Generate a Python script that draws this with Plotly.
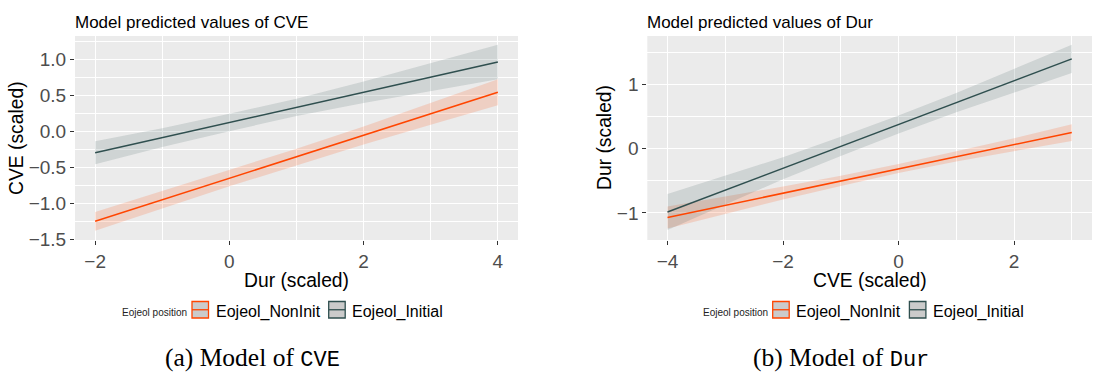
import plotly.graph_objects as go

W, H = 1099, 376

# ---- Model of CVE: predictions over Dur (scaled)
cve_x = [-2, -1, 0, 1, 2, 3, 4]
cve_noninit_fit = [-1.25, -0.95, -0.65, -0.36, -0.06, 0.24, 0.54]
cve_noninit_lo = [-1.38, -1.07, -0.765, -0.475, -0.185, 0.09, 0.36]
cve_noninit_hi = [-1.12, -0.83, -0.535, -0.245, 0.065, 0.39, 0.72]
cve_initial_fit = [-0.30, -0.09, 0.12, 0.33, 0.54, 0.75, 0.96]
cve_initial_lo = [-0.46, -0.22, 0.00, 0.21, 0.39, 0.56, 0.72]
cve_initial_hi = [-0.14, 0.04, 0.24, 0.45, 0.69, 0.94, 1.20]

# ---- Model of Dur: predictions over CVE (scaled)
dur_x = [-4, -3, -2, -1, 0, 1, 2, 3]
dur_noninit_fit = [-1.07, -0.88, -0.69, -0.50, -0.31, -0.12, 0.06, 0.25]
dur_noninit_lo = [-1.24, -1.01, -0.79, -0.58, -0.38, -0.20, -0.04, 0.12]
dur_noninit_hi = [-0.90, -0.75, -0.59, -0.42, -0.24, -0.04, 0.16, 0.38]
dur_initial_fit = [-0.985, -0.645, -0.305, 0.035, 0.375, 0.715, 1.055, 1.395]
dur_initial_lo = [-1.265, -0.865, -0.475, -0.115, 0.235, 0.565, 0.875, 1.175]
dur_initial_hi = [-0.705, -0.425, -0.135, 0.185, 0.515, 0.865, 1.235, 1.615]

groups = ["Eojeol_NonInit", "Eojeol_Initial"]
line_colors = {"Eojeol_NonInit": "#FF4500", "Eojeol_Initial": "#2F4F4F"}
band_colors = {"Eojeol_NonInit": "rgba(255,69,0,0.17)", "Eojeol_Initial": "rgba(47,79,79,0.15)"}


def px_x(p):
    return p / W


def px_y(p):
    return 1 - p / H


fig = go.Figure()


def add_model(x, series, xa, ya):
    # confidence bands first, fitted lines on top
    for name, fit, lo, hi in series:
        fig.add_trace(go.Scatter(x=x, y=lo, mode="lines", line=dict(width=0),
                                 xaxis=xa, yaxis=ya, showlegend=False, hoverinfo="skip"))
        fig.add_trace(go.Scatter(x=x, y=hi, mode="lines", line=dict(width=0), fill="tonexty",
                                 fillcolor=band_colors[name], xaxis=xa, yaxis=ya,
                                 showlegend=False, hoverinfo="skip"))
    for name, fit, lo, hi in series:
        fig.add_trace(go.Scatter(x=x, y=fit, mode="lines", name=name,
                                 line=dict(color=line_colors[name], width=1.5),
                                 xaxis=xa, yaxis=ya, showlegend=False))


add_model(cve_x, [("Eojeol_NonInit", cve_noninit_fit, cve_noninit_lo, cve_noninit_hi),
                  ("Eojeol_Initial", cve_initial_fit, cve_initial_lo, cve_initial_hi)], "x", "y")
add_model(dur_x, [("Eojeol_NonInit", dur_noninit_fit, dur_noninit_lo, dur_noninit_hi),
                  ("Eojeol_Initial", dur_initial_fit, dur_initial_lo, dur_initial_hi)], "x2", "y2")

tickfont = dict(family="Liberation Sans, Arial, sans-serif", size=19, color="#4D4D4D")
axis_common = dict(showline=False, zeroline=False, showgrid=True, gridcolor="white",
                   gridwidth=1.1, ticks="outside", ticklen=4, tickcolor="#333333",
                   tickwidth=1, tickfont=tickfont, fixedrange=True, automargin=False)
minor_grid = dict(showgrid=True, gridcolor="white", gridwidth=0.5, ticks="")

fig.update_layout(
    width=W, height=H,
    margin=dict(l=0, r=0, t=0, b=0),
    paper_bgcolor="white",
    plot_bgcolor="#EBEBEB",
    showlegend=False,
    xaxis=dict(domain=[px_x(75), px_x(518)], range=[-2.3, 4.3], anchor="y",
               tickmode="array", tickvals=[-2, 0, 2, 4], ticktext=["\u22122", "0", "2", "4"],
               minor=dict(tickvals=[-1, 1, 3], **minor_grid), **axis_common),
    yaxis=dict(domain=[px_y(240), px_y(36)], range=[-1.51, 1.32], anchor="x",
               tickmode="array", tickvals=[-1.5, -1.0, -0.5, 0.0, 0.5, 1.0],
               ticktext=["\u22121.5", "\u22121.0", "\u22120.5", "0.0", "0.5", "1.0"],
               minor=dict(tickvals=[-1.25, -0.75, -0.25, 0.25, 0.75, 1.25], **minor_grid),
               **axis_common),
    xaxis2=dict(domain=[px_x(647.3), px_x(1092)], range=[-4.35, 3.35], anchor="y2",
                tickmode="array", tickvals=[-4, -2, 0, 2], ticktext=["\u22124", "\u22122", "0", "2"],
                minor=dict(tickvals=[-3, -1, 1, 3], **minor_grid), **axis_common),
    yaxis2=dict(domain=[px_y(240), px_y(36)], range=[-1.42, 1.75], anchor="x2",
                tickmode="array", tickvals=[-1, 0, 1], ticktext=["\u22121", "0", "1"],
                minor=dict(tickvals=[-0.5, 0.5, 1.5], **minor_grid), **axis_common),
)

sans = "Liberation Sans, Arial, sans-serif"
ann = []


def text(x, y, s, size, color="black", xanchor="left", yanchor="middle", angle=0, family=sans):
    ann.append(dict(x=px_x(x), y=px_y(y), xref="paper", yref="paper", text=s, showarrow=False,
                    xanchor=xanchor, yanchor=yanchor, textangle=angle,
                    font=dict(family=family, size=size, color=color)))


# panel titles
text(73, 22, "Model predicted values of CVE", 17)
text(645, 22, "Model predicted values of Dur", 17)
# axis titles
text(296.5, 268, "Dur (scaled)", 19.3, xanchor="center", yanchor="top")
text(16, 138, "CVE (scaled)", 19.3, xanchor="center", angle=-90)
text(870, 268, "CVE (scaled)", 19.3, xanchor="center", yanchor="top")
text(604, 138, "Dur (scaled)", 19.3, xanchor="center", angle=-90)

# legends
shapes = []
for off in (0, 580.7):
    text(120 + off, 312, "Eojeol position", 10, color="#222222")
    keys = [(192 + off, 213.5 + off, groups[0]), (328.7 + off, 350 + off, groups[1])]
    for kx, tx, g in keys:
        shapes.append(dict(type="rect", xref="paper", yref="paper",
                           x0=px_x(kx), x1=px_x(kx + 16.5), y0=px_y(318), y1=px_y(301.5),
                           fillcolor="#CBCBCB", line=dict(color=line_colors[g], width=1.3)))
        shapes.append(dict(type="line", xref="paper", yref="paper",
                           x0=px_x(kx), x1=px_x(kx + 16.5), y0=px_y(309.75), y1=px_y(309.75),
                           line=dict(color=line_colors[g], width=1.3)))
        text(tx, 312, g, 16)

# sub-figure captions: serif text with a monospace variable name
cap_serif = "Liberation Serif, Times New Roman, serif"
mono_span = "<span style=\"font-family:'Liberation Mono', monospace; font-size:22px\">{}</span>"
text(252, 375, "(a) Model of " + mono_span.format("CVE"), 25.5, xanchor="center",
     yanchor="bottom", family=cap_serif)
text(841, 375, "(b) Model of " + mono_span.format("Dur"), 25.5, xanchor="center",
     yanchor="bottom", family=cap_serif)

fig.update_layout(annotations=ann, shapes=shapes)
fig.write_html("out.html")
